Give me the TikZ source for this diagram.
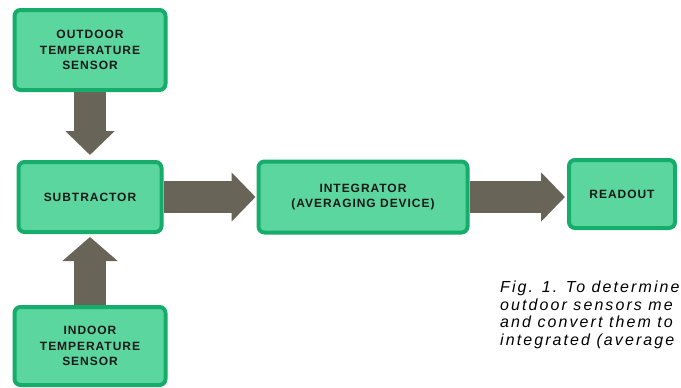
\documentclass[tikz,border=0pt]{standalone}
\usepackage{fontspec}
\setsansfont{Liberation Sans}
\newfontfamily\blockfont[LetterSpace=8]{Liberation Sans}
\newfontfamily\captionfont[LetterSpace=13]{Liberation Sans}
\usetikzlibrary{arrows.meta, positioning, backgrounds}
\definecolor{boxfill}{RGB}{90,214,158}
\definecolor{boxedge}{RGB}{22,172,108}
\definecolor{arrowgray}{RGB}{104,101,88}
\begin{document}
\begin{tikzpicture}[
  x=1pt, y=-1pt,
  blockbox/.style={
    draw=boxedge, fill=boxfill, line width=4pt, rounded corners=6pt,
    align=center, inner sep=2pt, text=black!90,
    font=\blockfont\bfseries\fontsize{12}{15.5}\selectfont
  },
  flowarrow/.style={
    draw=arrowgray, line width=32pt,
    -{Triangle[width=48pt, length=24pt]}
  }
]
  \useasboundingbox (0,0) rectangle (681,388);

  % blocks
  \node[blockbox, minimum width=151pt, minimum height=80pt] (out) at (90, 50)
    {OUTDOOR\\TEMPERATURE\\SENSOR};
  \node[blockbox, minimum width=143pt, minimum height=70pt] (sub) at (90, 197)
    {SUBTRACTOR};
  \node[blockbox, minimum width=209pt, minimum height=71pt] (int) at (363, 197)
    {INTEGRATOR\\(AVERAGING DEVICE)};
  \node[blockbox, minimum width=106pt, minimum height=68pt] (read) at (622, 194)
    {READOUT};
  \node[blockbox, minimum width=151pt, minimum height=78pt] (in) at (90, 346)
    {INDOOR\\TEMPERATURE\\SENSOR};

  % caption
  \node[anchor=north west, align=left, inner sep=0pt,
        font=\captionfont\itshape\fontsize{16}{17.5}\selectfont] (cap) at (500, 281)
    {Fig. 1. To determine\\outdoor sensors me\\and convert them to\\integrated (average};

  % connectors
  \begin{scope}[on background layer]
    \draw[flowarrow, shorten >=5pt] (out.south) -- (sub.north);
    \draw[flowarrow, shorten >=3pt, -{Triangle[width=54pt, length=24pt]}] (in.north) -- (sub.south);
    \draw[flowarrow, shorten >=1pt] (sub.east) -- (int.west);
    \draw[flowarrow, shorten >=2pt] (int.east) -- (int.east -| read.west);
  \end{scope}
\end{tikzpicture}
\end{document}
